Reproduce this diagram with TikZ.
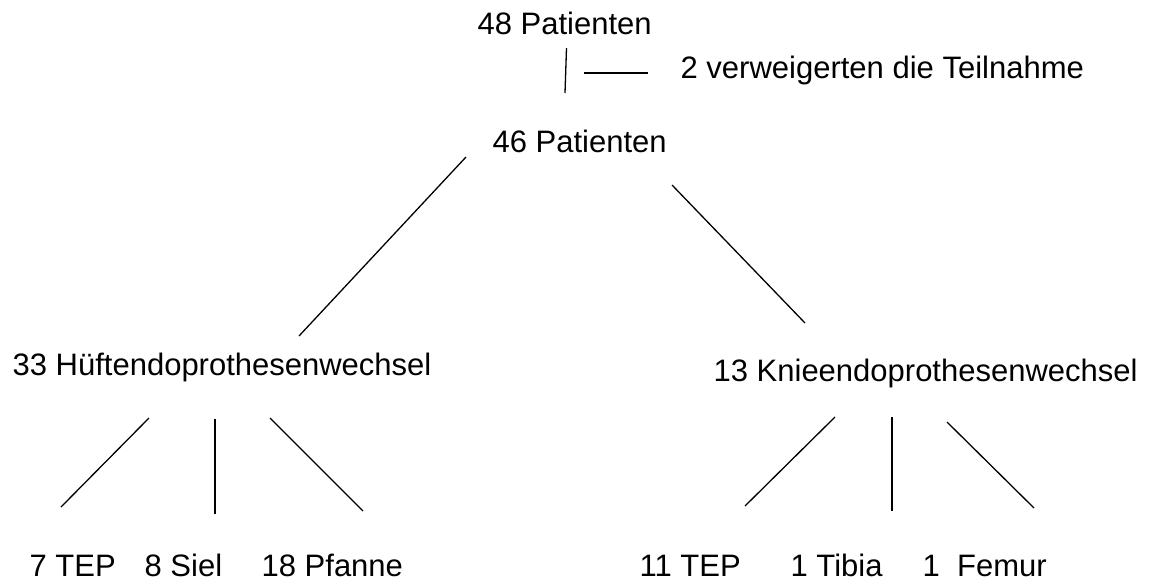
\documentclass[tikz,border=0pt]{standalone}
\usepackage{fontspec}
\setmainfont{Liberation Sans}
\usepackage{tikz}
\usetikzlibrary{calc}

\tikzset{lbl/.style={inner sep=0pt, anchor=base west, font=\fontsize{31}{37}\selectfont}}

\begin{document}
\begin{tikzpicture}[x=1pt,y=-1pt,-,line width=1.3pt]
            \useasboundingbox (0,0) rectangle (1159,582);

            \node [lbl] (n48) at (477, 34) {48 Patienten};
            \node [lbl] (n2) at (680, 78) {2 verweigerten die Teilnahme};
            \node [lbl] (n46) at (492, 152) {46 Patienten};
            \node [lbl] (hip) at (12, 375) {33 Hüftendoprothesenwechsel};
            \node [lbl] (knee) at (713, 381) {13 Knieendoprothesenwechsel};
            \node [lbl] (htep) at (29, 576.5) {7 TEP};
            \node [lbl] (hsiel) at (144, 576.5) {8 Siel};
            \node [lbl] (hpf) at (261, 576.5) {18 Pfanne};
            \node [lbl] (ktep) at (639, 576.5) {11 TEP};
            \node [lbl] (ktib) at (790, 576.5) {1 Tibia};
            \node [lbl] (kfem) at (922, 576.5) {1\ \ Femur};

            % line ends
            \coordinate (a1) at (566.5, 48);  \coordinate (a2) at (565, 93);
            \coordinate (b1) at (584, 73);    \coordinate (b2) at (648, 73);
            \coordinate (c1) at (466, 157);   \coordinate (c2) at (299, 336);
            \coordinate (d1) at (672, 185);   \coordinate (d2) at (805, 323);
            \coordinate (e1) at (149, 418);   \coordinate (e2) at (61, 507);
            \coordinate (f1) at (215, 419);   \coordinate (f2) at (215, 514);
            \coordinate (g1) at (270, 418);   \coordinate (g2) at (363, 511);
            \coordinate (p1) at (835, 417);   \coordinate (p2) at (745, 506);
            \coordinate (q1) at (892, 417);   \coordinate (q2) at (892, 511);
            \coordinate (r1) at (947, 422);   \coordinate (r2) at (1034, 508);

            \draw (a1) -- (a2);
            \draw (b1) -- (b2);
            \draw (c1) -- (c2);
            \draw (d1) -- (d2);
            \draw (e1) -- (e2);
            \draw (f1) -- (f2);
            \draw (g1) -- (g2);
            \draw (p1) -- (p2);
            \draw (q1) -- (q2);
            \draw (r1) -- (r2);

        \end{tikzpicture}
\end{document}
